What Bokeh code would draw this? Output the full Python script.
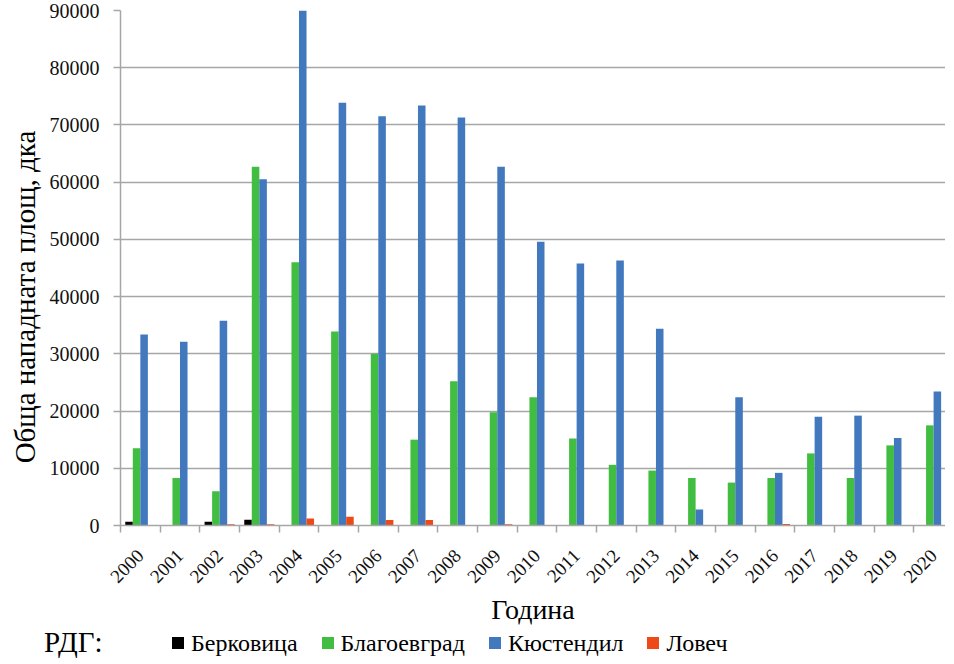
import math
from bokeh.plotting import figure
from bokeh.layouts import column
from bokeh.models import (Range1d, FixedTicker, Title, ColumnDataSource, Div)
from bokeh.transform import dodge
from bokeh.embed import file_html
from bokeh.resources import INLINE

# ---- data ----
years = list(range(2000, 2021))
year_labels = [str(y) for y in years]

berkovitsa = [650, 0, 650, 1000, 0, 0, 0, 0, 0, 0, 0,
              0, 0, 0, 0, 0, 0, 0, 0, 0, 0]
blagoevgrad = [13500, 8300, 6000, 62700, 46000, 33900, 30000, 15000, 25200, 19800, 22400,
               15200, 10600, 9600, 8300, 7500, 8300, 12600, 8300, 14000, 17500]
kyustendil = [33400, 32100, 35800, 60500, 90000, 73900, 71500, 73400, 71300, 62700, 49600,
              45800, 46300, 34400, 2800, 22400, 9200, 19000, 19200, 15300, 23400]
lovech = [0, 0, 230, 230, 1220, 1510, 950, 950, 0, 200, 0,
          0, 0, 0, 0, 0, 250, 0, 0, 0, 0]

series_names = ["Берковица", "Благоевград", "Кюстендил", "Ловеч"]
series_keys = ["berkovitsa", "blagoevgrad", "kyustendil", "lovech"]
series_colors = ["#000000", "#41BE41", "#4178BE", "#EE4A17"]
y_ticks = list(range(0, 90001, 10000))

legend_title = "РДГ:"
x_title = "Година"
y_title = "Обща нападната площ, дка"

FONT = "Liberation Serif"
GRID = "#A6A6A6"
NB = "\u00a0"
W = 938

src = ColumnDataSource(dict(year=years, berkovitsa=berkovitsa, blagoevgrad=blagoevgrad,
                            kyustendil=kyustendil, lovech=lovech))

p = figure(frame_width=825, frame_height=515, output_backend="svg", toolbar_location=None,
           x_range=Range1d(1999.5, 2020.3), y_range=Range1d(0, 90000),
           min_border_left=113, min_border_top=10, min_border_right=0,
           min_border_bottom=97)
p.outline_line_color = None
p.background_fill_color = "white"

bar_w = 0.19
offsets = [-0.285, -0.095, 0.095, 0.285]
for key, col, off in zip(series_keys, series_colors, offsets):
    p.vbar(x=dodge("year", off, range=p.x_range), top=key, width=bar_w,
           bottom=0, source=src, fill_color=col, line_color=None)

# grid
p.xgrid.visible = False
p.ygrid.grid_line_color = GRID
p.ygrid.grid_line_width = 1.5
p.ygrid.ticker = FixedTicker(ticks=y_ticks)

# y axis
ya = p.yaxis[0]
ya.ticker = FixedTicker(ticks=y_ticks)
ya.axis_line_color = GRID
ya.axis_line_width = 1.5
ya.major_tick_line_color = GRID
ya.major_tick_line_width = 1.5
ya.major_tick_out = 7
ya.major_tick_in = 0
ya.minor_tick_line_color = None
ya.major_label_standoff = 14
ya.major_label_text_font = FONT
ya.major_label_text_font_size = "20px"
ya.major_label_text_color = "#111111"

# x axis
xa = p.xaxis[0]
xa.ticker = FixedTicker(ticks=years, minor_ticks=[y - 0.5 for y in years] + [years[-1] + 0.5])
xa.major_label_overrides = {y: l for y, l in zip(years, year_labels)}
xa.major_label_orientation = math.pi / 4
xa.axis_line_color = GRID
xa.axis_line_width = 1.5
xa.major_tick_line_color = None
xa.major_tick_out = 0
xa.major_tick_in = 0
xa.minor_tick_line_color = GRID
xa.minor_tick_line_width = 1.5
xa.minor_tick_out = 7
xa.minor_tick_in = 0
xa.major_label_standoff = 20
xa.major_label_text_font = FONT
xa.major_label_text_font_size = "19px"
xa.major_label_text_color = "#111111"
xa.axis_label = x_title
xa.axis_label_text_font = FONT
xa.axis_label_text_font_size = "28px"
xa.axis_label_text_font_style = "normal"
xa.axis_label_text_color = "#000000"
xa.axis_label_standoff = 2

# y title on the left (trailing no-break spaces move the visible text down)
yt = Title(text=y_title + NB * 8, align="center", text_font=FONT,
           text_font_size="29px", text_font_style="normal", text_color="#000000",
           standoff=12)
p.add_layout(yt, "left")

# ---- legend strip under the chart ----
ff = f"font-family:'{FONT}',serif;"
item_html = "".join(
    f'<span style="display:inline-block;width:12px;height:12px;background:{c};'
    f'margin-right:7px;position:relative;top:3px;"></span>'
    f'<span style="{ff}font-size:24px;margin-right:24px;position:relative;top:3px;">{n}</span>'
    for n, c in zip(series_names, series_colors))
legend_html = (
    f'<div style="display:flex;align-items:center;height:26px;width:{W}px;{ff}'
    f'color:#000000;white-space:nowrap;line-height:26px;">'
    f'<span style="{ff}margin-left:44px;width:128px;font-size:29px;position:relative;top:2px;">'
    f'{legend_title}</span>{item_html}</div>')
legend_div = Div(text=legend_html, width=W, height=26, margin=(0, 0, 0, 0))

layout = column(p, legend_div, spacing=0)
open("out.html", "w").write(file_html(layout, INLINE))
